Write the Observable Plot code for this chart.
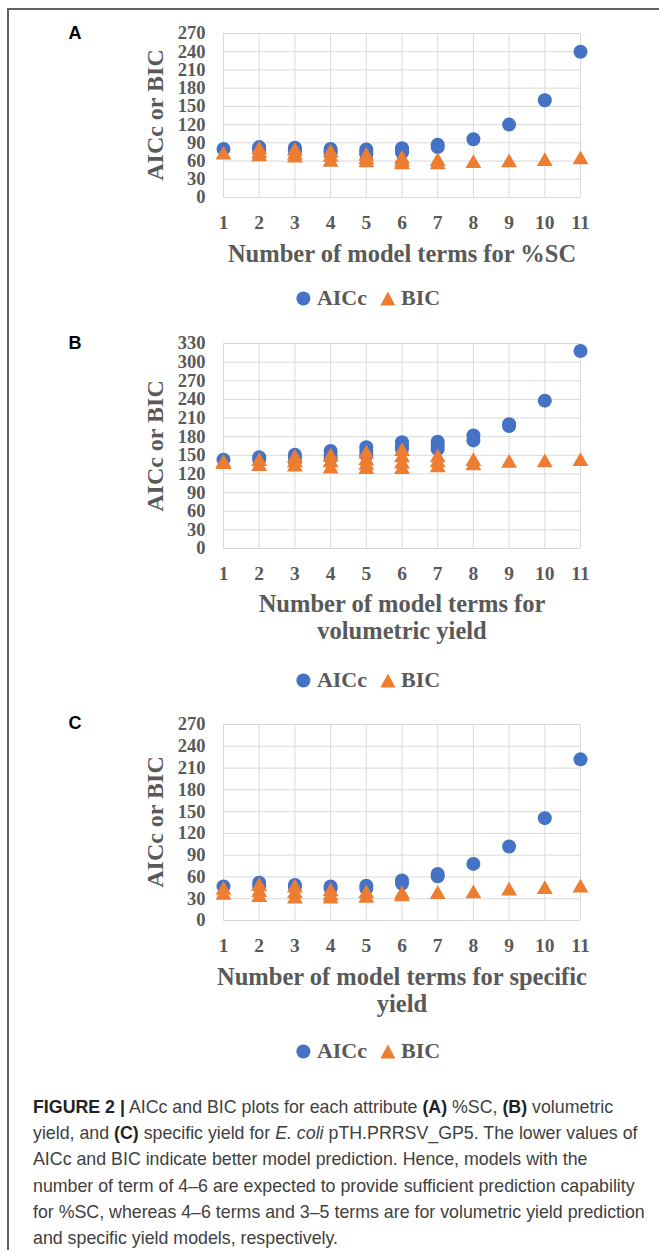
<!DOCTYPE html>
<html><head><meta charset="utf-8">
<script src="https://cdn.jsdelivr.net/npm/d3@7"></script>
<script src="https://cdn.jsdelivr.net/npm/@observablehq/plot@0.6"></script>
<style>
body{margin:0;background:#fff;}
#page{position:relative;width:659px;height:1250px;overflow:hidden;background:#fff;}
.abs{position:absolute;white-space:nowrap;}
#frame{position:absolute;left:7px;top:8px;width:800px;height:1400px;border-top:2px solid #606060;border-left:2px solid #606060;}
.letter{font-family:"Liberation Sans",Arial,sans-serif;font-weight:bold;font-size:18px;color:#000;transform:translate(-50%,-50%);line-height:1;}
.ytitle{font-family:"Liberation Serif","Times New Roman",serif;font-weight:bold;font-size:24px;color:#595959;transform:translate(-50%,-50%) rotate(-90deg);line-height:1;}
.xtitle{font-family:"Liberation Serif","Times New Roman",serif;font-weight:bold;font-size:24.5px;color:#595959;transform:translateX(-50%);text-align:center;line-height:27px;}
.legend{font-family:"Liberation Serif","Times New Roman",serif;font-weight:bold;font-size:22px;color:#595959;transform:translate(-50%,-50%);display:flex;align-items:center;line-height:1;}
.legend svg{display:block;}
#caption{position:absolute;left:33px;top:1094px;font-family:"Liberation Sans",Arial,sans-serif;font-size:17.8px;line-height:26.2px;color:#404040;white-space:nowrap;}
#caption b{color:#222;}
</style>
</head><body>
<div id="page">
<div id="frame"></div>
</div>
<script>
// ---- data ----
const terms = [1, 2, 3, 4, 5, 6, 7, 8, 9, 10, 11];
const yTicksA = [0, 30, 60, 90, 120, 150, 180, 210, 240, 270];
const yTicksB = [0, 30, 60, 90, 120, 150, 180, 210, 240, 270, 300, 330];
const yTicksC = [0, 30, 60, 90, 120, 150, 180, 210, 240, 270];

const aiccA = [[80],[83,80,77],[82,79,76],[80,77,73],[79,75,71],[81,77,74],[87,83],[96],[120],[160],[240]];
const bicA  = [[74],[82,76,71],[80,74,69],[77,70,62],[72,66,61],[67,62,58],[63,58],[60],[61],[63],[66]];

const aiccB = [[143],[147,143],[151,146,141],[157,151,145],[163,157,150],[171,165,160],[172,166,160],[182,174],[200,197],[238],[318]];
const bicB  = [[141,139],[144,136],[149,142,135],[151,142,132],[156,145,138,131],[160,150,140,131],[150,142,134],[144,137],[141],[142],[144]];

const aiccC = [[47],[52,47],[49,46],[47,44],[48,44],[55,51],[64,61],[78],[102],[141],[222]];
const bicC  = [[45,38],[50,42,35],[48,40,33],[43,37,33],[40,34],[39,36],[39],[40],[44],[46],[48]];

const panelLetters = ["A", "B", "C"];
const yTitle = "AICc or BIC";
const xTitles = [["Number of model terms for %SC"], ["Number of model terms for", "volumetric yield"], ["Number of model terms for specific", "yield"]];
const seriesNames = ["AICc", "BIC"];
const colors = ["#4472C4", "#ED7D31"];

// ---- layout ----
const panels = [
  {aicc: aiccA, bic: bicA, ticks: yTicksA, top: 0,   h: 240, mt: 33, mb: 43, letterY: 33,  yTitleY: 115, xTitleY: 240, legendY: 298},
  {aicc: aiccB, bic: bicB, ticks: yTicksB, top: 300, h: 290, mt: 43, mb: 42, letterY: 343, yTitleY: 446, xTitleY: 590, legendY: 680},
  {aicc: aiccC, bic: bicC, ticks: yTicksC, top: 690, h: 270, mt: 34, mb: 40, letterY: 723, yTitleY: 822, xTitleY: 963, legendY: 1051}
];

const page = document.getElementById("page");
const fontX = {fontFamily: "Liberation Serif, Times New Roman, serif", fontWeight: "bold", fontSize: 19.5};
const fontY = {fontFamily: "Liberation Serif, Times New Roman, serif", fontWeight: "bold", fontSize: 18.5};

function flat(arr) {
  const out = [];
  terms.forEach((t, i) => arr[i].forEach(v => out.push({t, v})));
  return out;
}

function legendHTML() {
  return `<svg width="15" height="15"><circle cx="7.5" cy="7.5" r="7" fill="${colors[0]}"/></svg>` +
    `<span style="margin-left:6px">${seriesNames[0]}</span>` +
    `<svg width="16" height="15" style="margin-left:13px"><path d="M8 0.5 L15.5 14.5 L0.5 14.5 Z" fill="${colors[1]}"/></svg>` +
    `<span style="margin-left:5px">${seriesNames[1]}</span>`;
}

panels.forEach((p, k) => {
  const plot = Plot.plot({
    width: 659, height: p.h,
    marginLeft: 223, marginRight: 79, marginTop: p.mt, marginBottom: p.mb,
    style: {fontFamily: fontX.fontFamily, fontWeight: "bold", fontSize: "19px", color: "#595959", background: "transparent", overflow: "visible"},
    x: {type: "linear", domain: [1, 11]},
    y: {type: "linear", domain: [0, p.ticks[p.ticks.length - 1]]},
    marks: [
      Plot.gridX(terms, {stroke: "#d9d9d9", strokeOpacity: 1, strokeWidth: 1}),
      Plot.gridY(p.ticks, {stroke: "#d9d9d9", strokeOpacity: 1, strokeWidth: 1}),
      Plot.axisX(terms, {tickSize: 0, tickPadding: 18, label: null, tickFormat: d => String(d), ...fontX}),
      Plot.axisY(p.ticks, {tickSize: 0, tickPadding: 18, label: null, tickFormat: d => String(d), ...fontY}),
      Plot.dot(flat(p.aicc), {x: "t", y: "v", r: 7, fill: colors[0], symbol: "circle"}),
      Plot.dot(flat(p.bic), {x: "t", y: "v", r: 5.9, fill: colors[1], symbol: "triangle", dy: 2.3})
    ]
  });
  const wrap = document.createElement("div");
  wrap.className = "abs";
  wrap.style.left = "0px";
  wrap.style.top = p.top + "px";
  wrap.appendChild(plot);
  page.appendChild(wrap);

  const letter = document.createElement("div");
  letter.className = "abs letter";
  letter.style.left = "75px"; letter.style.top = p.letterY + "px";
  letter.textContent = panelLetters[k];
  page.appendChild(letter);

  const yt = document.createElement("div");
  yt.className = "abs ytitle";
  yt.style.left = "155px"; yt.style.top = p.yTitleY + "px";
  yt.textContent = yTitle;
  page.appendChild(yt);

  const xt = document.createElement("div");
  xt.className = "abs xtitle";
  xt.style.left = "402px"; xt.style.top = p.xTitleY + "px";
  xt.innerHTML = xTitles[k].join("<br>");
  page.appendChild(xt);

  const lg = document.createElement("div");
  lg.className = "abs legend";
  lg.style.left = "368px"; lg.style.top = p.legendY + "px";
  lg.innerHTML = legendHTML();
  page.appendChild(lg);
});

const cap = document.createElement("div");
cap.id = "caption";
cap.innerHTML = `<b>FIGURE 2 |</b> AICc and BIC plots for each attribute <b>(A)</b> %SC, <b>(B)</b> volumetric<br>` +
  `yield, and <b>(C)</b> specific yield for <i>E. coli</i> pTH.PRRSV_GP5. The lower values of<br>` +
  `AICc and BIC indicate better model prediction. Hence, models with the<br>` +
  `number of term of 4–6 are expected to provide sufficient prediction capability<br>` +
  `for %SC, whereas 4–6 terms and 3–5 terms are for volumetric yield prediction<br>` +
  `and specific yield models, respectively.`;
page.appendChild(cap);
</script>
</body></html>
